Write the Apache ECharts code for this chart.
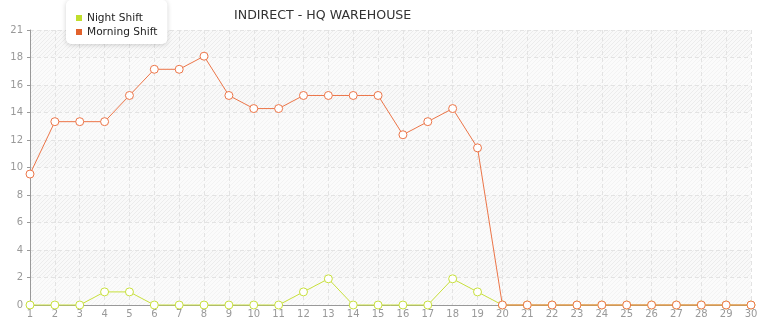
<!DOCTYPE html>
<html><head><meta charset="utf-8">
<script src="https://cdn.jsdelivr.net/npm/echarts@6/dist/echarts.min.js"></script>
<style>html,body{margin:0;padding:0;background:#fff}#c{width:765px;height:320px}</style>
</head><body><div id="c"></div>
<script>
const categories = ['1','2','3','4','5','6','7','8','9','10','11','12','13','14','15','16','17','18','19','20','21','22','23','24','25','26','27','28','29','30'];
const nightShift = [0,0,0,1,1,0,0,0,0,0,0,1,2,0,0,0,0,2,1,0,0,0,0,0,0,0,0,0,0,0];
const morningShift = [10,14,14,14,16,18,18,19,16,15,15,16,16,16,16,13,14,15,12,0,0,0,0,0,0,0,0,0,0,0];
const yTickLabels = ['0','2','4','6','8','10','12','14','16','18','21'];
const seriesNames = ['Night Shift','Morning Shift'];
const titleText = 'INDIRECT - HQ WAREHOUSE';

function hatch(bg, fg) {
  const c = document.createElement('canvas');
  c.width = 4; c.height = 4;
  const x = c.getContext('2d');
  x.fillStyle = bg; x.fillRect(0,0,4,4);
  x.strokeStyle = fg; x.lineWidth = 1;
  x.beginPath();
  x.moveTo(-1,1); x.lineTo(1,-1);
  x.moveTo(0,4); x.lineTo(4,0);
  x.moveTo(3,5); x.lineTo(5,3);
  x.stroke();
  return c;
}
const patLight = {image: hatch('#fbfbfb','#f3f3f3'), repeat:'repeat'};
const patDark = {image: hatch('#f9f9f9','#ececec'), repeat:'repeat'};

const GREEN = '#c8e03c', ORANGE = '#ec7548';
const LEG_GREEN = '#c0de2c', LEG_ORANGE = '#e2622c';
const chart = echarts.init(document.getElementById('c'));
chart.setOption({
  animation: false,
  title: {text: titleText, left: 234, top: 9, padding: 0,
    textStyle: {fontFamily: 'DejaVu Sans', fontSize: 12.6, fontWeight: 'normal', color: '#333'}},
  legend: {
    orient: 'vertical', left: 66, top: 0,
    padding: [11, 10, 5, 10], itemGap: 0, itemWidth: 6, itemHeight: 6,
    backgroundColor: '#fff', borderRadius: 5,
    shadowBlur: 5, shadowColor: 'rgba(0,0,0,0.18)', shadowOffsetY: 1,
    textStyle: {fontFamily: 'DejaVu Sans', fontSize: 10.6, color: '#222', lineHeight: 14},
    data: [
      {name: seriesNames[0], icon: 'rect', itemStyle: {color: LEG_GREEN, borderWidth: 0}},
      {name: seriesNames[1], icon: 'rect', itemStyle: {color: LEG_ORANGE, borderWidth: 0}}
    ]
  },
  grid: {left: 30, right: 14, top: 30, bottom: 15, containLabel: false},
  xAxis: {
    type: 'category', data: categories, boundaryGap: false,
    axisLine: {lineStyle: {color: '#999'}},
    axisTick: {show: false},
    axisLabel: {margin: 4, fontFamily: 'DejaVu Sans', fontSize: 10, color: '#999', interval: 0},
    splitLine: {show: true, lineStyle: {color: '#e3e3e3', type: [4,3]}}
  },
  yAxis: {
    type: 'value', min: 0, max: 21, interval: 2.1,
    axisLine: {show: true, lineStyle: {color: '#999'}},
    axisTick: {show: true, length: 3, lineStyle: {color: '#999'}},
    axisLabel: {margin: 7, fontFamily: 'DejaVu Sans', fontSize: 10, color: '#999',
      formatter: v => yTickLabels[Math.round(v / 2.1)]},
    splitLine: {show: true, lineStyle: {color: '#e3e3e3', type: [4,3]}},
    splitArea: {show: true, areaStyle: {color: [patLight, patDark]}}
  },
  series: [
    {name: seriesNames[0], type: 'line', data: nightShift, symbol: 'circle', symbolSize: 8,
     clip: false, itemStyle: {color: '#fff', borderColor: GREEN, borderWidth: 1}, lineStyle: {color: GREEN, width: 1}},
    {name: seriesNames[1], type: 'line', data: morningShift, symbol: 'circle', symbolSize: 8,
     clip: false, itemStyle: {color: '#fff', borderColor: ORANGE, borderWidth: 1}, lineStyle: {color: ORANGE, width: 1}}
  ]
});
</script></body></html>
